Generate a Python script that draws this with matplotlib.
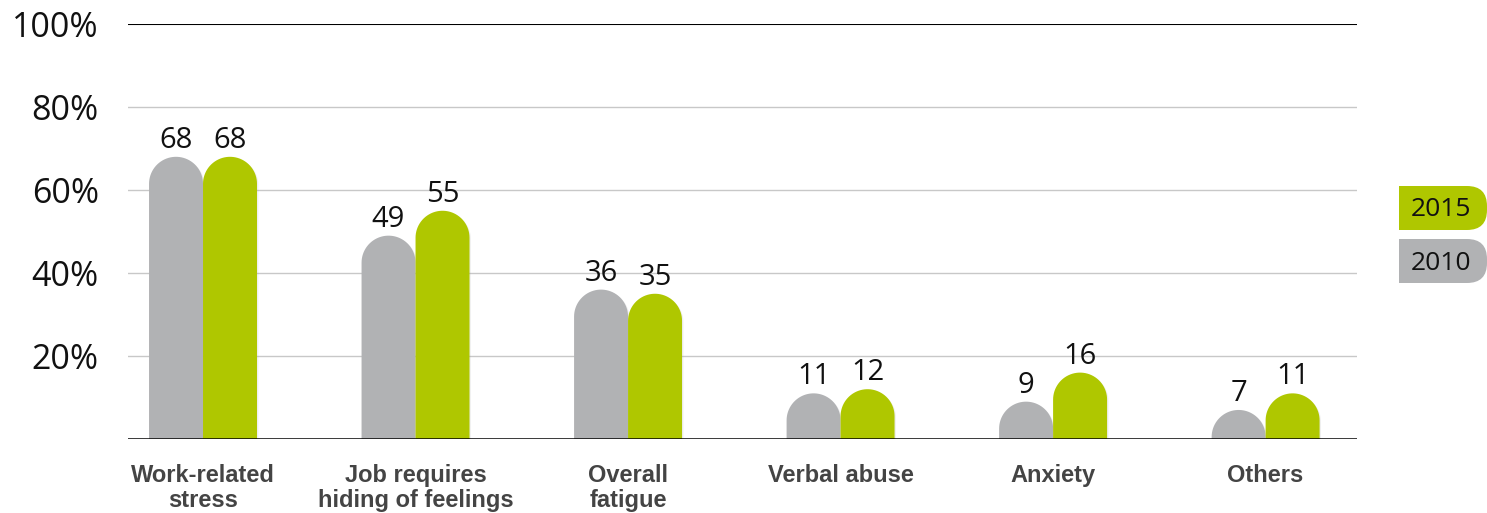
import numpy as np
import matplotlib.pyplot as plt
from matplotlib.path import Path
from matplotlib.patches import PathPatch, FancyBboxPatch, Rectangle
import matplotlib.patheffects as pe

categories = ['Work-related\nstress', 'Job requires\nhiding of feelings', 'Overall\nfatigue',
              'Verbal abuse', 'Anxiety', 'Others']
vals_2010 = [68, 49, 36, 11, 9, 7]
vals_2015 = [68, 55, 35, 12, 16, 11]
yticks = [20, 40, 60, 80, 100]
ytick_labels = ['20%', '40%', '60%', '80%', '100%']

GRAY = '#b1b2b4'
GREEN = '#afc700'
NUM_FONT = 'Open Sans'
CAT_FONT = 'Liberation Sans'

fig = plt.figure(figsize=(14.87, 5.13), dpi=100)
ax = fig.add_axes([128 / 1487, 1 - 439 / 513, 1229 / 1487, 415 / 513])
ax.set_xlim(-0.353, 5.43)
ax.set_ylim(0, 100)

x = np.arange(len(categories))
w = 0.254

# pixel scale to get true semicircle caps
px_x = ax.bbox.width / (5.43 + 0.353)
px_y = ax.bbox.height / 100.0
rx = w / 2
ry_full = rx * px_x / px_y

theta = np.linspace(0, np.pi, 40)


def rounded_bar(cx, h, color):
    ry = min(ry_full, h)
    base = h - ry
    xs = [cx + rx, cx + rx] + list(cx + rx * np.cos(theta)) + [cx - rx, cx + rx]
    ys = [0, base] + list(base + ry * np.sin(theta)) + [0, 0]
    verts = list(zip(xs, ys))
    codes = [Path.MOVETO] + [Path.LINETO] * (len(verts) - 2) + [Path.CLOSEPOLY]
    patch = PathPatch(Path(verts, codes), facecolor=color, edgecolor='none', zorder=3)
    patch.set_path_effects([pe.SimplePatchShadow(offset=(1, -1), shadow_rgbFace='#999999', alpha=0.15),
                            pe.Normal()])
    ax.add_patch(patch)


for i in range(len(categories)):
    rounded_bar(x[i] - w / 2, vals_2010[i], GRAY)
    rounded_bar(x[i] + w / 2, vals_2015[i], GREEN)
    ax.annotate(str(vals_2010[i]), xy=(x[i] - w / 2, vals_2010[i]), xytext=(0, 1.5),
                textcoords='offset points', ha='center', va='bottom',
                fontsize=21, family=NUM_FONT, color='#111111')
    ax.annotate(str(vals_2015[i]), xy=(x[i] + w / 2, vals_2015[i]), xytext=(0, 1.5),
                textcoords='offset points', ha='center', va='bottom',
                fontsize=21, family=NUM_FONT, color='#111111')

for y in yticks[:-1]:
    ax.axhline(y, color='#c8c8c8', linewidth=1, zorder=1)
ax.axhline(100, color='black', linewidth=1.5, zorder=1)
ax.axhline(0, color='black', linewidth=1.8, zorder=4)

for s in ax.spines.values():
    s.set_visible(False)
ax.set_yticks(yticks)
ax.set_yticklabels(ytick_labels, fontsize=24.5, family=NUM_FONT, color='#111111')
ax.tick_params(axis='y', length=0, pad=21)
ax.set_xticks(x)
ax.set_xticklabels(categories, fontsize=17, family=CAT_FONT, fontweight='bold',
                   color='#444444', linespacing=1.1, va='top')
ax.tick_params(axis='x', length=0, pad=18)

# legend boxes with rounded right side
for (label, color, ybot) in [('2015', GREEN, 2.83), ('2010', GRAY, 2.30)]:
    box = FancyBboxPatch((13.99, ybot), 0.88, 0.44,
                         boxstyle='round,pad=0,rounding_size=0.2',
                         transform=fig.dpi_scale_trans, facecolor=color, edgecolor='none')
    fig.patches.append(box)
    sq = Rectangle((13.99, ybot), 0.4, 0.44, transform=fig.dpi_scale_trans,
                   facecolor=color, edgecolor='none')
    fig.patches.append(sq)
    fig.text(14.41, ybot + 0.20, label, transform=fig.dpi_scale_trans, ha='center',
             va='center', fontsize=19, family=NUM_FONT, color='#111111')

fig.savefig('out.png', dpi=100)
